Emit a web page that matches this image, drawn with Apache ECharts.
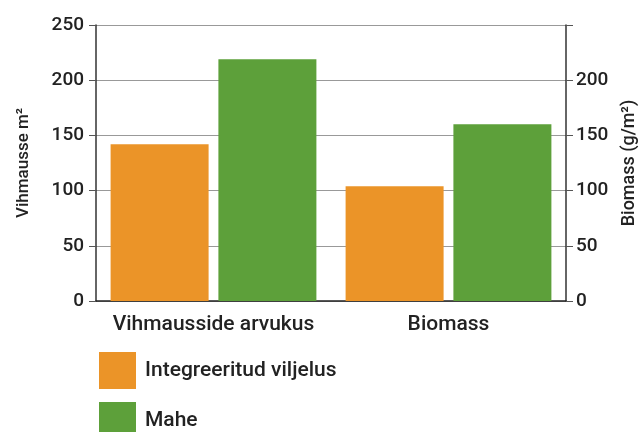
<!DOCTYPE html>
<html>
<head>
<meta charset="utf-8">
<script src="https://cdn.jsdelivr.net/npm/echarts@6/dist/echarts.min.js"></script>
<style>
  html, body { margin: 0; padding: 0; background: #fff; }
  #main { width: 641px; height: 432px; }
</style>
</head>
<body>
<div id="main"></div>
<script>
var categories = ['Vihmausside arvukus', 'Biomass'];
var integreeritud = [142, 104];
var mahe = [219, 160];
var seriesNames = ['Integreeritud viljelus', 'Mahe'];

var chart = echarts.init(document.getElementById('main'));

var font = 'Roboto';

var option = {
  animation: false,
  color: ['#EB9428', '#5DA03A'],
  textStyle: { fontFamily: font },
  grid: {
    left: 96,
    right: 75,
    top: 25,
    bottom: 131,
    outerBoundsMode: 'none'
  },
  legend: {
    data: seriesNames,
    orient: 'vertical',
    left: 94,
    top: 347,
    height: 120,
    itemWidth: 37,
    itemHeight: 37,
    itemGap: 13,
    icon: 'rect',
    textStyle: { color: '#222', fontSize: 21, fontWeight: 500, fontFamily: font, padding: [0, 0, 0, 4] }
  },
  xAxis: {
    type: 'category',
    data: categories,
    axisLine: { lineStyle: { color: '#222', width: 1.5 } },
    axisTick: { show: false },
    axisLabel: {
      color: '#222', fontSize: 21, fontWeight: 500, fontFamily: font, margin: 13,
      interval: 0, hideOverlap: false
    }
  },
  yAxis: [{
    type: 'value',
    min: 0,
    max: 250,
    interval: 50,
    name: 'Vihmausse m²',
    nameLocation: 'middle',
    nameGap: 64,
    nameTextStyle: { color: '#222', fontSize: 17, fontWeight: 500, fontFamily: font },
    axisLine: { show: true, lineStyle: { color: '#333', width: 1.5 } },
    axisTick: { show: true, length: 7, lineStyle: { color: '#555' } },
    axisLabel: { color: '#222', fontSize: 19, fontWeight: 500, fontFamily: font, margin: 12 },
    splitLine: { show: true, lineStyle: { color: '#999', width: 1 } }
  }, {
    type: 'value',
    min: 0,
    max: 250,
    interval: 50,
    position: 'right',
    name: 'Biomass (g/m²)',
    nameLocation: 'middle',
    nameGap: 54,
    nameRotate: 90,
    nameTextStyle: { color: '#222', fontSize: 18, fontWeight: 500, fontFamily: font },
    axisLine: { show: true, lineStyle: { color: '#333', width: 1.5 } },
    axisTick: { show: true, length: 7, lineStyle: { color: '#555' } },
    axisLabel: {
      color: '#222', fontSize: 19, fontWeight: 500, fontFamily: font, margin: 10,
      formatter: function (v) { return v === 250 ? '' : v; }
    },
    splitLine: { show: false }
  }],
  series: [{
    name: seriesNames[0],
    type: 'bar',
    data: integreeritud,
    barWidth: 98,
    barGap: '10%'
  }, {
    name: seriesNames[1],
    type: 'bar',
    data: mahe,
    barWidth: 98,
    barGap: '10%'
  }]
};

chart.setOption(option);
</script>
</body>
</html>
